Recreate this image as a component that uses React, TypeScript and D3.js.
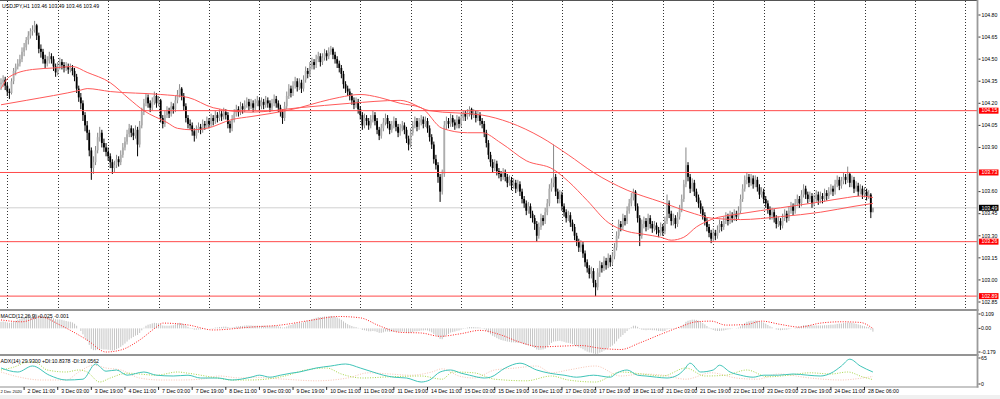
import React from "react";
import * as d3 from "d3";

// ---------- DATA (USDJPY H1, bar 0 = 2 Dec 00:00) ----------
const open = [
104.33,104.34,104.36,104.32,104.28,104.27,104.35,104.42,104.45,104.47,
104.50,104.55,104.58,104.63,104.66,104.69,104.70,104.73,104.66,104.57,
104.55,104.50,104.47,104.49,104.52,104.50,104.45,104.41,104.45,104.48,
104.46,104.44,104.45,104.43,104.44,104.42,104.38,104.30,104.24,104.20,
104.12,104.05,104.00,103.88,103.76,103.80,103.88,103.97,104.00,103.93,
103.90,103.87,103.84,103.80,103.76,103.78,103.82,103.80,103.85,103.90,
103.94,103.99,104.03,104.00,103.98,104.02,103.92,104.05,104.14,104.20,
104.24,104.20,104.17,104.21,104.25,104.20,104.22,104.10,104.06,104.12,
104.15,104.13,104.18,104.16,104.22,104.26,104.30,104.25,104.18,104.10,
104.06,104.05,104.01,103.98,104.02,104.04,104.02,104.06,104.05,104.08,
104.06,104.10,104.08,104.12,104.10,104.13,104.11,104.14,104.12,104.06,
104.03,104.09,104.13,104.16,104.14,104.18,104.16,104.19,104.21,104.18,
104.20,104.17,104.20,104.22,104.18,104.21,104.19,104.22,104.20,104.17,
104.20,104.23,104.20,104.17,104.14,104.10,104.18,104.25,104.30,104.27,
104.32,104.35,104.31,104.34,104.30,104.36,104.42,104.40,104.45,104.48,
104.46,104.50,104.52,104.48,104.51,104.54,104.52,104.55,104.57,104.53,
104.50,104.47,104.44,104.40,104.33,104.30,104.28,104.25,104.22,104.19,
104.21,104.16,104.12,104.05,104.10,104.08,104.05,104.09,104.12,104.08,
104.02,103.98,104.03,104.07,104.10,104.06,104.02,104.05,104.08,104.04,
104.00,104.03,104.05,104.02,103.96,103.92,104.00,104.05,104.08,104.04,
104.07,104.09,104.06,104.08,104.03,103.97,103.92,103.82,103.78,103.70,
103.60,103.72,104.05,104.08,104.06,104.10,104.07,104.05,104.09,104.06,
104.10,104.13,104.11,104.14,104.16,104.12,104.13,104.10,104.12,104.08,
104.06,104.00,103.93,103.85,103.80,103.76,103.79,103.74,103.72,103.70,
103.73,103.70,103.66,103.68,103.64,103.66,103.62,103.65,103.60,103.55,
103.52,103.47,103.50,103.45,103.42,103.38,103.30,103.36,103.42,103.40,
103.46,103.52,103.62,103.66,103.70,103.60,103.55,103.58,103.50,103.46,
103.42,103.44,103.39,103.36,103.30,103.26,103.22,103.24,103.18,103.12,
103.08,103.04,103.06,102.98,102.95,103.05,103.10,103.08,103.13,103.10,
103.15,103.12,103.16,103.22,103.30,103.38,103.36,103.42,103.40,103.47,
103.52,103.56,103.60,103.50,103.42,103.30,103.38,103.40,103.36,103.42,
103.38,103.35,103.37,103.34,103.32,103.36,103.33,103.40,103.52,103.45,
103.40,103.42,103.38,103.43,103.48,103.55,103.65,103.78,103.70,103.62,
103.66,103.60,103.56,103.52,103.48,103.44,103.40,103.36,103.32,103.28,
103.32,103.30,103.34,103.38,103.36,103.40,103.43,103.40,103.44,103.42,
103.45,103.43,103.47,103.55,103.62,103.68,103.70,103.66,103.69,103.65,
103.68,103.63,103.58,103.60,103.55,103.52,103.48,103.44,103.46,103.42,
103.38,103.40,103.37,103.42,103.45,103.42,103.47,103.50,103.47,103.52,
103.55,103.52,103.58,103.62,103.58,103.55,103.57,103.52,103.55,103.58,
103.54,103.57,103.55,103.59,103.57,103.60,103.62,103.60,103.65,103.68,
103.64,103.67,103.70,103.68,103.72,103.66,103.68,103.62,103.64,103.60,
103.62,103.58,103.60,103.57,103.58,103.46
];
const high = [
104.37,104.39,104.38,104.34,104.30,104.37,104.44,104.47,104.50,104.53,
104.58,104.61,104.65,104.69,104.71,104.73,104.76,104.74,104.68,104.60,
104.57,104.53,104.52,104.55,104.54,104.52,104.47,104.48,104.51,104.50,
104.48,104.48,104.47,104.47,104.46,104.44,104.40,104.32,104.27,104.22,
104.14,104.08,104.02,103.90,103.84,103.91,104.00,104.04,104.02,103.96,
103.93,103.90,103.86,103.82,103.81,103.85,103.84,103.88,103.93,103.97,
104.02,104.06,104.05,104.03,104.05,104.04,104.08,104.17,104.23,104.27,
104.26,104.22,104.24,104.28,104.27,104.25,104.23,104.12,104.15,104.18,
104.17,104.21,104.20,104.25,104.29,104.33,104.31,104.27,104.20,104.12,
104.09,104.07,104.03,104.05,104.07,104.06,104.09,104.08,104.11,104.10,
104.13,104.12,104.15,104.14,104.16,104.15,104.17,104.16,104.14,104.08,
104.12,104.16,104.19,104.18,104.21,104.20,104.22,104.24,104.23,104.23,
104.22,104.23,104.25,104.24,104.24,104.23,104.25,104.24,104.22,104.23,
104.26,104.25,104.22,104.19,104.16,104.21,104.28,104.33,104.32,104.35,
104.38,104.37,104.37,104.36,104.39,104.45,104.44,104.48,104.51,104.50,
104.53,104.55,104.54,104.54,104.57,104.56,104.58,104.59,104.58,104.55,
104.52,104.49,104.46,104.42,104.35,104.32,104.30,104.27,104.24,104.24,
104.23,104.18,104.14,104.13,104.12,104.10,104.12,104.15,104.14,104.10,
104.04,104.06,104.10,104.13,104.12,104.08,104.08,104.11,104.10,104.06,
104.06,104.08,104.07,104.04,103.98,104.03,104.08,104.11,104.10,104.10,
104.12,104.11,104.11,104.10,104.05,103.99,103.94,103.85,103.80,103.72,
103.75,104.08,104.11,104.10,104.13,104.12,104.09,104.12,104.11,104.13,
104.15,104.15,104.16,104.18,104.17,104.16,104.15,104.15,104.14,104.10,
104.08,104.02,103.95,103.87,103.82,103.82,103.81,103.76,103.74,103.76,
103.75,103.72,103.71,103.70,103.69,103.68,103.68,103.67,103.62,103.57,
103.54,103.53,103.52,103.47,103.44,103.40,103.39,103.45,103.44,103.49,
103.55,103.65,103.69,103.92,103.72,103.62,103.61,103.60,103.52,103.48,
103.47,103.46,103.41,103.38,103.32,103.28,103.27,103.26,103.20,103.14,
103.10,103.09,103.08,103.00,103.08,103.13,103.12,103.16,103.15,103.18,
103.17,103.19,103.25,103.33,103.41,103.40,103.45,103.44,103.50,103.55,
103.59,103.62,103.61,103.52,103.44,103.41,103.43,103.42,103.45,103.44,
103.40,103.40,103.39,103.36,103.39,103.38,103.43,103.58,103.54,103.47,
103.45,103.44,103.46,103.51,103.58,103.68,103.90,103.80,103.72,103.69,
103.68,103.62,103.58,103.54,103.50,103.46,103.42,103.38,103.34,103.35,
103.34,103.37,103.41,103.40,103.43,103.46,103.45,103.47,103.46,103.48,
103.47,103.50,103.58,103.65,103.71,103.73,103.72,103.72,103.71,103.71,
103.70,103.65,103.63,103.62,103.57,103.54,103.50,103.49,103.48,103.44,
103.43,103.42,103.45,103.48,103.47,103.50,103.53,103.52,103.55,103.58,
103.57,103.61,103.65,103.64,103.60,103.60,103.59,103.58,103.61,103.60,
103.60,103.59,103.62,103.61,103.63,103.65,103.64,103.68,103.71,103.70,
103.70,103.73,103.72,103.77,103.73,103.71,103.70,103.67,103.66,103.65,
103.64,103.63,103.62,103.61,103.59,103.49
];
const low = [
104.29,104.31,104.29,104.25,104.23,104.26,104.33,104.39,104.43,104.45,
104.48,104.52,104.56,104.60,104.64,104.66,104.68,104.63,104.54,104.51,
104.47,104.44,104.45,104.47,104.47,104.42,104.38,104.39,104.43,104.43,
104.41,104.42,104.40,104.41,104.39,104.35,104.27,104.21,104.16,104.08,
104.01,103.95,103.84,103.68,103.72,103.78,103.86,103.94,103.90,103.87,
103.84,103.81,103.76,103.72,103.73,103.76,103.77,103.78,103.83,103.88,
103.92,103.97,103.97,103.95,103.96,103.84,103.90,104.03,104.12,104.18,
104.17,104.14,104.15,104.19,104.17,104.18,104.07,104.03,104.04,104.10,
104.10,104.11,104.13,104.14,104.20,104.24,104.22,104.15,104.07,104.03,
104.02,103.98,103.94,103.96,104.00,103.99,104.00,104.02,104.03,104.03,
104.04,104.05,104.06,104.07,104.08,104.08,104.09,104.09,104.03,104.00,
104.01,104.07,104.11,104.11,104.12,104.13,104.14,104.17,104.15,104.16,
104.14,104.15,104.18,104.15,104.16,104.16,104.17,104.17,104.14,104.15,
104.18,104.17,104.14,104.11,104.06,104.08,104.16,104.23,104.24,104.25,
104.30,104.28,104.29,104.27,104.28,104.34,104.37,104.38,104.43,104.43,
104.44,104.48,104.45,104.46,104.49,104.49,104.50,104.53,104.50,104.47,
104.44,104.41,104.37,104.30,104.27,104.25,104.22,104.19,104.16,104.17,
104.13,104.09,104.02,104.03,104.05,104.02,104.03,104.07,104.05,103.99,
103.95,103.96,104.01,104.05,104.03,103.99,104.00,104.03,104.01,103.97,
103.98,104.01,103.99,103.93,103.88,103.90,103.98,104.03,104.01,104.02,
104.05,104.03,104.04,104.00,103.94,103.89,103.79,103.75,103.66,103.53,
103.58,103.70,104.02,104.03,104.04,104.04,104.02,104.03,104.03,104.04,
104.08,104.08,104.09,104.11,104.09,104.10,104.07,104.08,104.05,104.03,
103.97,103.90,103.82,103.77,103.73,103.74,103.71,103.69,103.67,103.68,
103.67,103.63,103.64,103.61,103.62,103.59,103.60,103.57,103.52,103.49,
103.44,103.45,103.42,103.39,103.34,103.26,103.28,103.34,103.37,103.38,
103.44,103.50,103.60,103.63,103.57,103.52,103.52,103.47,103.43,103.39,
103.40,103.36,103.33,103.27,103.23,103.19,103.19,103.15,103.09,103.05,
103.01,103.01,102.95,102.89,102.93,103.02,103.05,103.06,103.07,103.08,
103.09,103.10,103.14,103.20,103.28,103.33,103.34,103.37,103.38,103.45,
103.50,103.54,103.47,103.39,103.23,103.28,103.35,103.33,103.34,103.35,
103.32,103.33,103.31,103.29,103.30,103.30,103.31,103.38,103.42,103.37,
103.37,103.35,103.36,103.41,103.46,103.53,103.63,103.67,103.59,103.60,
103.57,103.53,103.49,103.45,103.41,103.37,103.33,103.29,103.25,103.26,
103.27,103.28,103.32,103.33,103.34,103.38,103.37,103.38,103.39,103.40,
103.40,103.41,103.45,103.53,103.60,103.65,103.63,103.64,103.62,103.63,
103.60,103.55,103.56,103.52,103.49,103.45,103.41,103.41,103.39,103.35,
103.36,103.34,103.35,103.40,103.39,103.40,103.45,103.44,103.45,103.50,
103.49,103.50,103.56,103.55,103.52,103.53,103.49,103.50,103.53,103.51,
103.52,103.52,103.53,103.54,103.55,103.58,103.57,103.58,103.63,103.61,
103.62,103.65,103.65,103.66,103.63,103.63,103.59,103.60,103.57,103.58,
103.55,103.56,103.54,103.55,103.42,103.46
];
const close = [
104.34,104.36,104.32,104.28,104.27,104.35,104.42,104.45,104.47,104.50,
104.55,104.58,104.63,104.66,104.69,104.70,104.73,104.66,104.57,104.55,
104.50,104.47,104.49,104.52,104.50,104.45,104.41,104.45,104.48,104.46,
104.44,104.45,104.43,104.44,104.42,104.38,104.30,104.24,104.20,104.12,
104.05,104.00,103.88,103.76,103.80,103.88,103.97,104.00,103.93,103.90,
103.87,103.84,103.80,103.76,103.78,103.82,103.80,103.85,103.90,103.94,
103.99,104.03,104.00,103.98,104.02,103.92,104.05,104.14,104.20,104.24,
104.20,104.17,104.21,104.25,104.20,104.22,104.10,104.06,104.12,104.15,
104.13,104.18,104.16,104.22,104.26,104.30,104.25,104.18,104.10,104.06,
104.05,104.01,103.98,104.02,104.04,104.02,104.06,104.05,104.08,104.06,
104.10,104.08,104.12,104.10,104.13,104.11,104.14,104.12,104.06,104.03,
104.09,104.13,104.16,104.14,104.18,104.16,104.19,104.21,104.18,104.20,
104.17,104.20,104.22,104.18,104.21,104.19,104.22,104.20,104.17,104.20,
104.23,104.20,104.17,104.14,104.10,104.18,104.25,104.30,104.27,104.32,
104.35,104.31,104.34,104.30,104.36,104.42,104.40,104.45,104.48,104.46,
104.50,104.52,104.48,104.51,104.54,104.52,104.55,104.57,104.53,104.50,
104.47,104.44,104.40,104.33,104.30,104.28,104.25,104.22,104.19,104.21,
104.16,104.12,104.05,104.10,104.08,104.05,104.09,104.12,104.08,104.02,
103.98,104.03,104.07,104.10,104.06,104.02,104.05,104.08,104.04,104.00,
104.03,104.05,104.02,103.96,103.92,104.00,104.05,104.08,104.04,104.07,
104.09,104.06,104.08,104.03,103.97,103.92,103.82,103.78,103.70,103.60,
103.72,104.05,104.08,104.06,104.10,104.07,104.05,104.09,104.06,104.10,
104.13,104.11,104.14,104.16,104.12,104.13,104.10,104.12,104.08,104.06,
104.00,103.93,103.85,103.80,103.76,103.79,103.74,103.72,103.70,103.73,
103.70,103.66,103.68,103.64,103.66,103.62,103.65,103.60,103.55,103.52,
103.47,103.50,103.45,103.42,103.38,103.30,103.36,103.42,103.40,103.46,
103.52,103.62,103.66,103.70,103.60,103.55,103.58,103.50,103.46,103.42,
103.44,103.39,103.36,103.30,103.26,103.22,103.24,103.18,103.12,103.08,
103.04,103.06,102.98,102.95,103.05,103.10,103.08,103.13,103.10,103.15,
103.12,103.16,103.22,103.30,103.38,103.36,103.42,103.40,103.47,103.52,
103.56,103.60,103.50,103.42,103.30,103.38,103.40,103.36,103.42,103.38,
103.35,103.37,103.34,103.32,103.36,103.33,103.40,103.52,103.45,103.40,
103.42,103.38,103.43,103.48,103.55,103.65,103.78,103.70,103.62,103.66,
103.60,103.56,103.52,103.48,103.44,103.40,103.36,103.32,103.28,103.32,
103.30,103.34,103.38,103.36,103.40,103.43,103.40,103.44,103.42,103.45,
103.43,103.47,103.55,103.62,103.68,103.70,103.66,103.69,103.65,103.68,
103.63,103.58,103.60,103.55,103.52,103.48,103.44,103.46,103.42,103.38,
103.40,103.37,103.42,103.45,103.42,103.47,103.50,103.47,103.52,103.55,
103.52,103.58,103.62,103.58,103.55,103.57,103.52,103.55,103.58,103.54,
103.57,103.55,103.59,103.57,103.60,103.62,103.60,103.65,103.68,103.64,
103.67,103.70,103.68,103.72,103.66,103.68,103.62,103.64,103.60,103.62,
103.58,103.60,103.57,103.58,103.46,103.49
];

// MACD main (histogram), one value per bar
const macdMain = [
.05,.052,.05,.045,.042,.045,.05,.058,.065,.072,
.078,.085,.09,.095,.1,.104,.108,.107,.1,.095,
.09,.085,.083,.084,.082,.077,.07,.068,.068,.065,
.06,.056,.052,.05,.045,.035,.02,0,-.02,-.045,
-.07,-.095,-.125,-.155,-.165,-.165,-.16,-.155,-.158,-.16,
-.16,-.162,-.165,-.168,-.165,-.158,-.15,-.14,-.128,-.115,
-.1,-.085,-.075,-.065,-.055,-.05,-.035,-.015,.005,.02,
.028,.032,.038,.042,.04,.038,.03,.022,.02,.02,
.02,.022,.024,.03,.036,.042,.04,.032,.022,.012,
.004,-.004,-.01,-.01,-.008,-.008,-.005,-.004,0,0,
.002,.003,.006,.007,.01,.011,.013,.013,.01,.005,
.006,.01,.014,.015,.018,.019,.021,.023,.022,.022,
.02,.02,.021,.02,.02,.02,.02,.02,.018,.018,
.02,.019,.016,.012,.006,.008,.014,.022,.026,.032,
.038,.04,.042,.042,.046,.054,.058,.064,.07,.074,
.08,.085,.085,.087,.09,.09,.092,.094,.092,.088,
.082,.075,.065,.053,.042,.032,.024,.018,.012,.01,
.004,-.002,-.012,-.014,-.018,-.022,-.022,-.02,-.022,-.028,
-.034,-.034,-.03,-.024,-.024,-.026,-.026,-.024,-.024,-.026,
-.026,-.024,-.026,-.032,-.036,-.034,-.028,-.022,-.022,-.02,
-.016,-.016,-.014,-.016,-.022,-.03,-.042,-.052,-.064,-.08,
-.082,-.065,-.05,-.042,-.032,-.028,-.024,-.018,-.016,-.01,
-.004,.002,.006,.01,.01,.01,.008,.008,.006,.002,
-.006,-.016,-.03,-.044,-.056,-.064,-.074,-.082,-.088,-.092,
-.096,-.1,-.102,-.106,-.106,-.108,-.108,-.11,-.114,-.12,
-.126,-.128,-.134,-.14,-.148,-.16,-.164,-.162,-.16,-.154,
-.142,-.126,-.11,-.1,-.098,-.096,-.094,-.098,-.102,-.108,
-.11,-.114,-.12,-.128,-.136,-.144,-.15,-.158,-.168,-.176,
-.182,-.184,-.19,-.196,-.192,-.184,-.178,-.168,-.16,-.15,
-.14,-.13,-.116,-.098,-.078,-.064,-.05,-.036,-.02,-.006,
.008,.02,.02,.012,-.004,-.01,-.012,-.014,-.012,-.012,
-.014,-.014,-.016,-.02,-.02,-.022,-.02,-.008,-.004,-.004,
-.002,-.004,0,.006,.016,.03,.05,.058,.062,.066,
.066,.064,.058,.05,.04,.03,.018,.006,-.006,-.012,
-.018,-.02,-.02,-.018,-.016,-.012,-.008,-.006,-.002,0,
.002,.006,.016,.028,.04,.05,.054,.058,.058,.06,
.058,.054,.05,.044,.036,.026,.016,.008,0,-.008,
-.012,-.014,-.012,-.01,-.01,-.006,-.002,0,.004,.01,
.012,.018,.024,.024,.024,.024,.022,.022,.022,.022,
.022,.022,.024,.024,.026,.028,.028,.03,.034,.036,
.036,.04,.042,.044,.044,.042,.038,.034,.03,.026,
.02,.016,.012,.01,-.01,-.025
];

// MACD signal, read at sparse bars
const sigIdx = [0,10,19,28,41,50,57,66,74,77,89,101,119,133,147,161,171,180,190,200,209,219,228,238,247,257,266,276,285,295,304,314,323,331,338,345,355,362,371,380,390,400,409,415];
const sigVal = [0.064,0.05,0.086,0.026,-0.088,-0.179,-0.164,-0.088,0.01,0.04,0.026,-0.012,0.01,0.025,0.06,0.09,0.08,0.02,-0.03,-0.035,-0.06,-0.04,-0.015,-0.05,-0.105,-0.14,-0.135,-0.13,-0.15,-0.16,-0.11,-0.045,0.01,0.05,0.055,0.025,0.03,0.055,0.03,0.01,0.04,0.05,0.045,-0.001];

// Moving averages read at sparse bars
const maFastIdx = [0,4,15,25,34,41,52,61,68,79,84,91,98,110,119,128,142,152,161,171,180,190,200,210,222,229,238,250,263,270,279,289,298,306,314,319,325,331,338,352,371,390,403,409,415];
const maFastVal = [104.30,104.38,104.43,104.44,104.45,104.41,104.34,104.23,104.15,104.07,104.03,104.02,104.03,104.09,104.11,104.13,104.17,104.21,104.24,104.26,104.24,104.20,104.17,104.03,104.00,104.00,103.93,103.81,103.75,103.67,103.54,103.39,103.33,103.31,103.29,103.27,103.29,103.36,103.41,103.45,103.49,103.53,103.56,103.57,103.56];
const maSlowIdx = [0,12,38,41,52,76,89,101,119,142,166,190,204,229,242,257,270,282,298,314,330,338,352,371,390,406,415];
const maSlowVal = [104.19,104.22,104.29,104.30,104.28,104.26,104.24,104.17,104.14,104.17,104.20,104.22,104.15,104.12,104.07,103.97,103.85,103.73,103.61,103.53,103.45,103.42,103.41,103.43,103.46,103.50,103.52];

// ADX(14), +DI, -DI read at sparse bars
const adxIdx = [0,8,15,23,31,39,45,50,55,60,68,74,82,89,95,103,110,119,123,128,133,138,142,150,157,164,171,177,182,187,193,200,204,209,214,219,223,230,233,240,247,255,261,268,274,282,290,293,298,303,307,312,317,322,325,328,333,339,342,347,352,358,363,370,377,384,390,395,400,404,409,415];
const adxVal = [40,30,45,22,10,12,50,32,35,22,30,22,20,22,15,15,10,17,22,17,22,27,30,40,45,50,40,30,22,17,15,5,10,30,35,27,22,15,17,40,52,35,27,22,17,22,17,27,35,22,20,17,15,22,35,52,30,35,47,30,22,17,22,22,25,22,20,27,45,62,45,30];
const pdiIdx = [0,6,13,16,22,31,37,41,47,52,60,74,84,89,103,110,119,135,145,155,162,172,185,200,210,215,225,235,250,262,270,283,295,305,315,326,335,345,355,365,375,385,395,403,410,415];
const pdiVal = [35,42,55,55,35,30,35,30,5,15,27,22,30,27,15,10,10,20,35,40,25,15,18,20,12,30,28,12,8,20,10,5,30,25,20,40,20,22,35,18,22,28,25,30,18,10.84];
const mdiIdx = [0,9,19,31,37,44,50,57,66,76,85,95,104,114,119,135,150,165,175,185,195,205,210,218,225,235,245,255,262,270,283,295,305,315,326,338,350,360,370,385,400,410,415];
const mdiVal = [30,17,10,10,30,47,40,35,15,10,10,12,20,15,17,12,8,15,28,25,22,30,38,20,15,35,40,45,28,35,45,20,25,22,12,28,15,12,25,15,10,15,19.06];

// Price levels and axis labels
const priceTicks = [104.80,104.65,104.50,104.35,104.20,104.05,103.90,103.60,103.45,103.30,103.15,103.00,102.85];
const redLevels = [104.15,103.73,103.26,102.89];
const bidPrice = 103.49;
const macdTicks = [0.109, 0.0, -0.179];
const macdTickText = ["0.109", "0.00", "-0.179"];
const adxTicks = [65, 0];
const timeLabelIdx = [11,27,43,59,75,91,107,123,139,155,171,187,203,219,235,251,267,283,299,315,331,347,363,379,395,411];
const timeLabels = ["2 Dec 11:00","3 Dec 03:00","3 Dec 19:00","4 Dec 11:00","7 Dec 03:00","7 Dec 19:00","8 Dec 11:00","9 Dec 03:00","9 Dec 19:00","10 Dec 11:00","11 Dec 03:00","11 Dec 19:00","14 Dec 11:00","15 Dec 03:00","15 Dec 19:00","16 Dec 11:00","17 Dec 03:00","17 Dec 19:00","18 Dec 11:00","21 Dec 03:00","21 Dec 19:00","22 Dec 11:00","23 Dec 03:00","23 Dec 19:00","24 Dec 11:00","28 Dec 06:00"];
const firstLabel = "2 Dec 2020";
const gridIdx = d3.range(3, 460, 24);

// ---------- LAYOUT ----------
const W = 1000, H = 399;
const STEP = 2.101;
const AXIS_X = 977.5;
const xS = d3.scaleLinear().domain([0, 100]).range([1, 1 + 100 * STEP]);
const yP = d3.scaleLinear().domain([102.85, 104.8]).range([302, 15]);
const yM = d3.scaleLinear().domain([-0.179, 0.109]).range([352, 314]);
const yA = d3.scaleLinear().domain([0, 65]).range([384, 358]);
const FONT = "'Liberation Sans', Arial, sans-serif";
const FS = 5.2;

function pts(idx: number[], val: number[]): [number, number][] {
  return idx.map((b, k) => [b, val[k]] as [number, number]);
}

export default function App() {
  const fmt = d3.format(".2f");
  const mainLine = d3.line<[number, number]>().x(d => xS(d[0])).y(d => yP(d[1])).curve(d3.curveMonotoneX);
  const macdLine = d3.line<[number, number]>().x(d => xS(d[0])).y(d => yM(d[1])).curve(d3.curveMonotoneX);
  const adxLine = d3.line<[number, number]>().x(d => xS(d[0])).y(d => yA(d[1])).curve(d3.curveMonotoneX);

  return (
    <div style={{ position: "absolute", left: 0, top: 0 }}>
      <svg width={W} height={H} style={{ display: "block", background: "#fff", fontFamily: FONT }}>
        <defs>
          <clipPath id="mainClip"><rect x={0} y={1} width={AXIS_X - 0.5} height={308} /></clipPath>
          <clipPath id="macdClip"><rect x={0} y={311} width={AXIS_X - 0.5} height={43} /></clipPath>
          <clipPath id="adxClip"><rect x={0} y={356} width={AXIS_X - 0.5} height={30} /></clipPath>
        </defs>
        <rect x={0} y={0} width={W} height={H} fill="#fff" />
        <rect x={0} y={395} width={W} height={4} fill="#f0f0f0" />

        {/* main panel */}
        <g clipPath="url(#mainClip)">
          {gridIdx.map(g => (
            <line key={"g" + g} x1={Math.round(xS(g)) + 0.5} x2={Math.round(xS(g)) + 0.5} y1={1} y2={309}
              stroke="#333" strokeWidth={1} strokeDasharray="1 2" />
          ))}
          <line x1={0} x2={AXIS_X} y1={yP(bidPrice)} y2={yP(bidPrice)} stroke="#d0d0d0" strokeWidth={1} />
          {close.map((c, i) => {
            const o = open[i];
            const up = c >= o;
            const cx = xS(i);
            const top = yP(Math.max(o, c));
            const bot = yP(Math.min(o, c));
            const h = Math.max(1, bot - top);
            return (
              <g key={"c" + i}>
                <line x1={cx} x2={cx} y1={yP(high[i])} y2={yP(low[i])} stroke={up ? "#888" : "#000"} strokeWidth={1} />
                <rect x={cx - 0.9} y={top} width={1.8} height={h} fill={up ? "#adadad" : "#000"} />
              </g>
            );
          })}
          <path d={mainLine(pts(maSlowIdx, maSlowVal)) || ""} fill="none" stroke="#ff5a5a" strokeWidth={1} />
          <path d={mainLine(pts(maFastIdx, maFastVal)) || ""} fill="none" stroke="#ff5a5a" strokeWidth={1} />
          {redLevels.map(p => (
            <line key={"r" + p} x1={0} x2={AXIS_X} y1={yP(p)} y2={yP(p)} stroke="#ff4a4a" strokeWidth={1} />
          ))}
        </g>
        <text x={2} y={7.5} fontSize={FS} fill="#000">USDJPY,H1  103.46 103.49 103.46 103.49</text>

        {/* MACD panel */}
        <g clipPath="url(#macdClip)">
          {macdMain.map((v, i) => (
            <line key={"m" + i} x1={xS(i)} x2={xS(i)} y1={yM(0)} y2={yM(v)} stroke="#c4c4c4" strokeWidth={1} />
          ))}
          <path d={macdLine(pts(sigIdx, sigVal)) || ""} fill="none" stroke="#ff2020" strokeWidth={1} strokeDasharray="1 1.5" />
        </g>
        <text x={0.5} y={317.5} fontSize={FS} fill="#000">MACD(12,26,9) -0.025 -0.001</text>

        {/* ADX panel */}
        <g clipPath="url(#adxClip)">
          <path d={adxLine(pts(mdiIdx, mdiVal)) || ""} fill="none" stroke="#f7c4b4" strokeWidth={1} strokeDasharray="1 1.5" />
          <path d={adxLine(pts(pdiIdx, pdiVal)) || ""} fill="none" stroke="#a8d64a" strokeWidth={1} strokeDasharray="1 1.5" />
          <path d={adxLine(pts(adxIdx, adxVal)) || ""} fill="none" stroke="#3fc4b8" strokeWidth={1} />
        </g>
        <text x={0.5} y={362.5} fontSize={FS} fill="#000">ADX(14) 29.9300 +DI:10.8378 -DI:19.0562</text>

        {/* frame lines */}
        <line x1={0} x2={AXIS_X} y1={0.5} y2={0.5} stroke="#555" strokeWidth={1} />
        <line x1={0} x2={AXIS_X + 1} y1={310} y2={310} stroke="#707070" strokeWidth={1.6} />
        <line x1={0} x2={AXIS_X + 1} y1={355} y2={355} stroke="#707070" strokeWidth={1.6} />
        <line x1={0} x2={AXIS_X + 1} y1={387} y2={387} stroke="#909090" strokeWidth={1.2} />
        <line x1={AXIS_X} x2={AXIS_X} y1={0} y2={387.5} stroke="#9a9a9a" strokeWidth={1.8} />

        {/* price axis */}
        {priceTicks.map(p => (
          <g key={"pt" + p}>
            <line x1={AXIS_X + 1} x2={AXIS_X + 3} y1={yP(p)} y2={yP(p)} stroke="#000" strokeWidth={0.8} />
            <text x={981.5} y={yP(p) + 1.8} fontSize={FS} fill="#000">{fmt(p)}</text>
          </g>
        ))}
        {redLevels.map(p => (
          <g key={"rl" + p}>
            <rect x={979} y={yP(p) - 3} width={19.5} height={6} fill="#ff0000" />
            <text x={981.5} y={yP(p) + 1.8} fontSize={FS} fill="#fff">{fmt(p)}</text>
          </g>
        ))}
        <rect x={979} y={yP(bidPrice) - 3} width={19.5} height={6} fill="#000" />
        <text x={981.5} y={yP(bidPrice) + 1.8} fontSize={FS} fill="#fff">{fmt(bidPrice)}</text>

        {macdTicks.map((v, k) => (
          <g key={"mt" + k}>
            <line x1={AXIS_X + 1} x2={AXIS_X + 3} y1={yM(v)} y2={yM(v)} stroke="#000" strokeWidth={0.8} />
            <text x={981} y={yM(v) + 1.8} fontSize={FS} fill="#000">{macdTickText[k]}</text>
          </g>
        ))}
        {adxTicks.map(v => (
          <g key={"at" + v}>
            <line x1={AXIS_X + 1} x2={AXIS_X + 3} y1={yA(v)} y2={yA(v)} stroke="#000" strokeWidth={0.8} />
            <text x={981} y={yA(v) + 1.8} fontSize={FS} fill="#000">{v}</text>
          </g>
        ))}

        {/* time axis */}
        <text x={0.5} y={392.5} fontSize={4.2} fill="#000">{firstLabel}</text>
        {timeLabelIdx.map((b, k) => (
          <g key={"tl" + b}>
            <line x1={xS(b)} x2={xS(b)} y1={387} y2={390} stroke="#000" strokeWidth={0.8} />
            <text x={xS(b) + 3.5} y={392.5} fontSize={FS} fill="#000">{timeLabels[k]}</text>
          </g>
        ))}
      </svg>
    </div>
  );
}
